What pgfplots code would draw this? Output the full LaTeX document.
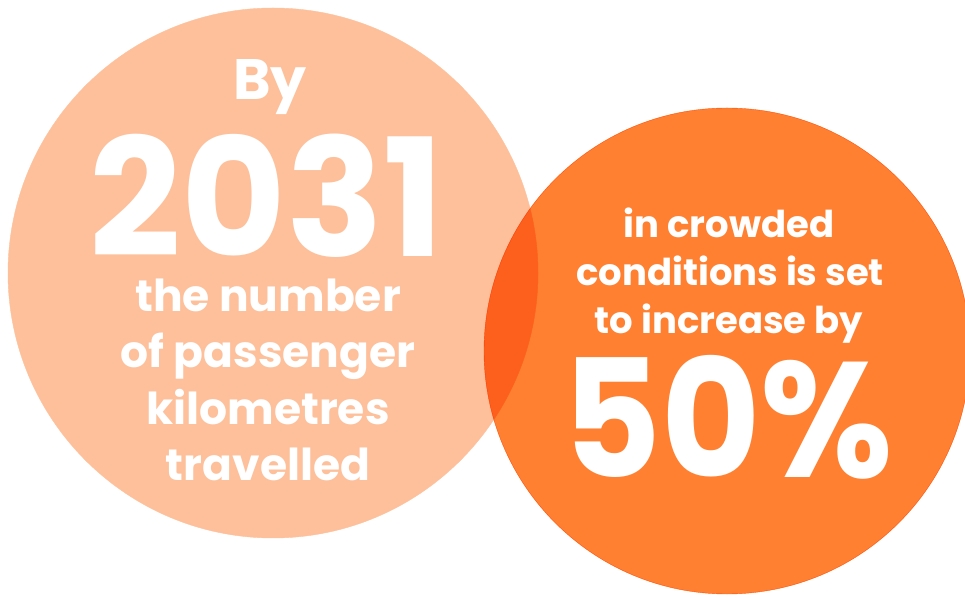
\documentclass[border=0pt]{standalone}
\usepackage{pgfplots}
\pgfplotsset{compat=1.18}
\usepackage{fontspec}
\setmainfont{Poppins}
\definecolor{peach}{HTML}{FDC09A}
\definecolor{tangerine}{HTML}{FF8030}
\begin{document}
\begin{tikzpicture}
\begin{axis}[
    name=ax,
    width=965pt, height=597pt, scale only axis,
    xmin=0, xmax=965, ymin=0, ymax=597,
    hide axis, clip=false
]
    % circles: centre (x, y) in pixels, y counted from the bottom
    \addplot[only marks, mark=*, mark size=265pt, color=peach]
        coordinates {(273,324)};
    \addplot[only marks, mark=*, mark size=243pt, color=tangerine, blend mode=multiply]
        coordinates {(727,246)};
\end{axis}
% 1 axis unit = 1pt, so the labels are placed from the axis corner
\begin{scope}[shift={(ax.south west)}, x=1pt, y=1pt,
    every node/.style={text=white, anchor=base, inner sep=0pt}]
    \node[font=\bfseries\fontsize{57}{57}\selectfont] at (270,497) {By};
    \node[font=\bfseries\fontsize{164}{164}\selectfont, xscale=0.98] at (267,340) {2031};
    \node[font=\bfseries\fontsize{44}{44}\selectfont] at (268,285) {the number};
    \node[font=\bfseries\fontsize{44}{44}\selectfont] at (268,229) {of passenger};
    \node[font=\bfseries\fontsize{44}{44}\selectfont] at (268,173) {kilometres};
    \node[font=\bfseries\fontsize{44}{44}\selectfont] at (268,117) {travelled};
    \node[font=\bfseries\fontsize{37}{37}\selectfont] at (729,359) {in crowded};
    \node[font=\bfseries\fontsize{37}{37}\selectfont] at (730,311) {conditions is set};
    \node[font=\bfseries\fontsize{37}{37}\selectfont] at (729,263) {to increase by};
    \node[font=\bfseries\fontsize{164}{164}\selectfont, xscale=0.93] at (728,120) {50\%};
\end{scope}
\pgfresetboundingbox
\path[use as bounding box] (ax.south west) rectangle (ax.north east);
\end{tikzpicture}
\end{document}
